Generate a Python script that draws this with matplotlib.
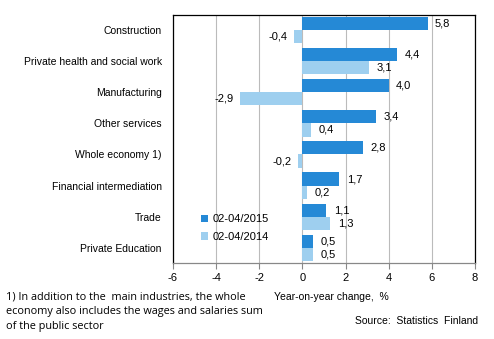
import numpy as np
import matplotlib.pyplot as plt

# data
categories = ['Construction', 'Private health and social work', 'Manufacturing',
              'Other services', 'Whole economy 1)', 'Financial intermediation',
              'Trade', 'Private Education']
v2015 = [5.8, 4.4, 4.0, 3.4, 2.8, 1.7, 1.1, 0.5]
v2014 = [-0.4, 3.1, -2.9, 0.4, -0.2, 0.2, 1.3, 0.5]
labels = ['02-04/2015', '02-04/2014']
xticks = [-6, -4, -2, 0, 2, 4, 6, 8]

plt.rcParams['font.family'] = ['Liberation Sans', 'DejaVu Sans']
dark = '#2589d6'
light = '#9ecfef'

fig = plt.figure(figsize=(4.94, 3.39), dpi=100)
ax = fig.add_axes([0.350, 0.224, 0.6115, 0.732])

y = np.arange(len(categories))
h = 0.42
b1 = ax.barh(y - h/2, v2015, height=h, color=dark, label=labels[0], zorder=3)
b2 = ax.barh(y + h/2, v2014, height=h, color=light, label=labels[1], zorder=3)

def fmt(v):
    return ('%.1f' % v).replace('.', ',')

for bars, vals in [(b1, v2015), (b2, v2014)]:
    for bar, v in zip(bars, vals):
        yc = bar.get_y() + bar.get_height()/2
        if v >= 0:
            ax.text(v + 0.35, yc, fmt(v), va='center', ha='left', fontsize=8)
        else:
            ax.text(v - 0.3, yc, fmt(v), va='center', ha='right', fontsize=8)

ax.set_xlim(-6, 8)
ax.set_ylim(len(categories) - 0.5, -0.5)
ax.set_xticks(xticks)
ax.set_xticklabels([str(t) for t in xticks], fontsize=8)
ax.set_yticks(y)
ax.set_yticklabels(categories, fontsize=7.5)
ax.tick_params(axis='y', length=0, pad=8)
ax.tick_params(axis='x', length=4, direction='out', color='#888888')
ax.grid(axis='x', color='#bbbbbb', linewidth=0.8, zorder=0)
for s in ax.spines.values():
    s.set_linewidth(0.9)
ax.spines['bottom'].set_color('#888888')

ax.legend(loc='lower left', bbox_to_anchor=(0.06, 0.045), frameon=False,
          fontsize=8, handlelength=0.6, handleheight=0.6, handletextpad=0.4,
          labelspacing=0.7)

fig.text(0.012, 0.140, '1) In addition to the  main industries, the whole\n'
         'economy also includes the wages and salaries sum\nof the public sector',
         family='Open Sans', fontsize=7.8, va='top', linespacing=1.45)
fig.text(0.555, 0.140, 'Year-on-year change,  %', fontsize=7.5, va='top')
fig.text(0.968, 0.068, 'Source:  Statistics  Finland', fontsize=7.5, va='top', ha='right')

fig.savefig('out.png', dpi=100)
